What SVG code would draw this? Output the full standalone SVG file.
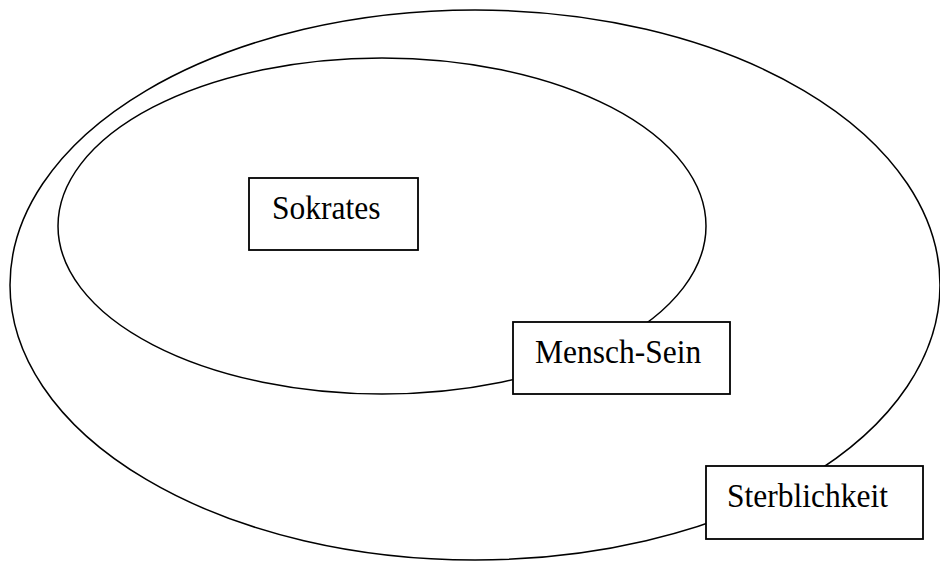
<svg xmlns="http://www.w3.org/2000/svg" width="940" height="563" viewBox="0 0 940 563">
<style>
.set{fill:none;stroke:#000;stroke-width:1.5}
.box{fill:#fff;stroke:#000;stroke-width:1.8}
.lbl{font-family:"Liberation Serif","Times New Roman",serif;font-size:31.5px;fill:#000}
</style>
<rect width="940" height="563" fill="#fff"/>
<g id="connectors"></g>
<g id="sterblichkeit-set"><ellipse class="set" cx="475" cy="285" rx="465" ry="275"/></g>
<g id="mensch-set"><ellipse class="set" cx="382" cy="226" rx="324" ry="168"/></g>
<g id="sokrates"><rect class="box" x="249" y="178" width="169" height="72"/><text class="lbl" transform="translate(272 219) scale(1 1.1)">Sokrates</text></g>
<g id="mensch-sein"><rect class="box" x="513" y="322" width="217" height="72"/><text class="lbl" transform="translate(535 363) scale(1 1.1)">Mensch-Sein</text></g>
<g id="sterblichkeit"><rect class="box" x="706" y="466" width="217" height="73"/><text class="lbl" transform="translate(727 507) scale(1 1.1)">Sterblichkeit</text></g>
</svg>
